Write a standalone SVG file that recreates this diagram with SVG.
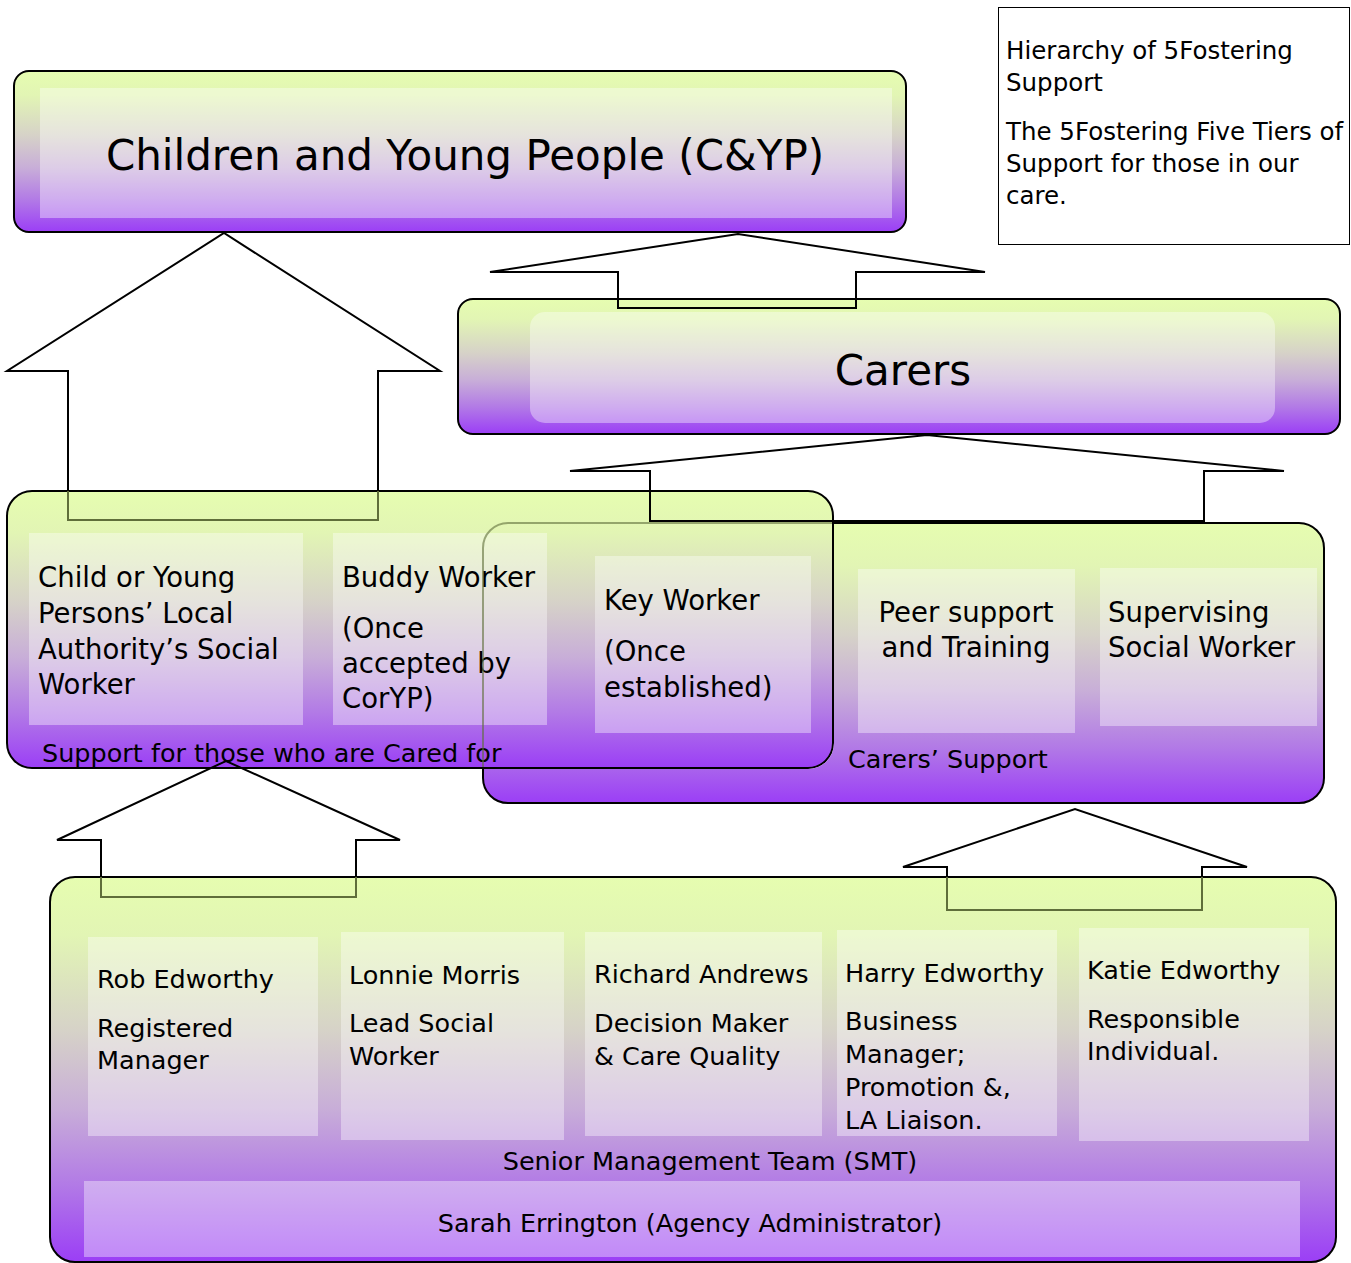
<svg xmlns="http://www.w3.org/2000/svg" width="1351" height="1263" viewBox="0 0 1351 1263">
<style>
.t{font-family:"DejaVu Sans","Liberation Sans",sans-serif;fill:#000}
.big{font-size:42px}
.mid{font-size:27.5px}
.lbl{font-size:25.5px}
.note{font-size:24.5px}
.box{fill:url(#g);stroke:#000;stroke-width:2}
.pane{fill:#fff;fill-opacity:0.38}
.arr{fill:none;stroke:#000;stroke-width:2;stroke-linejoin:miter}
.arrIn{fill:none;stroke:#5f6e3a;stroke-width:2}
</style>
<defs>
<linearGradient id="g" x1="0" y1="0" x2="0" y2="1">
<stop offset="0" stop-color="#e6fdb0"/>
<stop offset="0.15" stop-color="#e2f5b4"/>
<stop offset="0.4" stop-color="#d6d2c8"/>
<stop offset="0.6" stop-color="#c8aed8"/>
<stop offset="0.8" stop-color="#b27ae6"/>
<stop offset="1" stop-color="#9b3ef6"/>
</linearGradient>
<mask id="mOut" maskUnits="userSpaceOnUse" x="0" y="0" width="1351" height="1263">
<rect x="0" y="0" width="1351" height="1263" fill="#fff"/>
<rect x="7" y="491" width="826" height="277" rx="25" fill="#000" stroke="#000" stroke-width="2"/>
</mask>
<clipPath id="cIn"><rect x="8" y="492" width="824" height="275" rx="24"/></clipPath>
</defs>
<rect width="1351" height="1263" fill="#fff"/>

<g id="node-cyp">
<rect class="box" x="14" y="71" width="892" height="161" rx="15"/>
<rect class="pane" x="40" y="88" width="852" height="130" fill-opacity="0.3"/>
<text class="t big" x="465" y="170" text-anchor="middle">Children and Young People (C&amp;YP)</text>
</g>

<g id="node-carers">
<rect class="box" x="458" y="299" width="882" height="135" rx="15"/>
<rect class="pane" x="530" y="312" width="745" height="111" rx="15" fill-opacity="0.25"/>
<text class="t big" x="903" y="385" text-anchor="middle">Carers</text>
</g>

<g id="node-note">
<rect x="998.5" y="7.5" width="351" height="237" fill="#fff" stroke="#000" stroke-width="1"/>
<text class="t note" x="1006" y="59">Hierarchy of 5Fostering</text>
<text class="t note" x="1006" y="91">Support</text>
<text class="t note" x="1006" y="140">The 5Fostering Five Tiers of</text>
<text class="t note" x="1006" y="172">Support for those in our</text>
<text class="t note" x="1006" y="204">care.</text>
</g>

<g id="node-support-cared">
<rect class="box" x="7" y="491" width="826" height="277" rx="25"/>
<rect class="pane" x="29" y="533" width="274" height="192"/>
<rect class="pane" x="333" y="533" width="214" height="192"/>
<text class="t mid" x="38" y="587">Child or Young</text>
<text class="t mid" x="38" y="623">Persons’ Local</text>
<text class="t mid" x="38" y="659">Authority’s Social</text>
<text class="t mid" x="38" y="694">Worker</text>
<text class="t mid" x="342" y="587">Buddy Worker</text>
<text class="t mid" x="342" y="638">(Once</text>
<text class="t mid" x="342" y="673">accepted by</text>
<text class="t mid" x="342" y="708">CorYP)</text>
<text class="t lbl" x="42" y="762">Support for those who are Cared for</text>
</g>

<g id="node-carers-support">
<rect x="483" y="523" width="841" height="280" rx="25" fill="url(#g)" stroke="#000" stroke-width="2" mask="url(#mOut)"/>
<rect x="483" y="523" width="841" height="280" rx="25" fill="none" stroke="#5f6e3a" stroke-opacity="0.6" stroke-width="2" clip-path="url(#cIn)"/>
<rect class="pane" x="595" y="556" width="216" height="177"/>
<rect class="pane" x="858" y="569" width="217" height="164"/>
<rect class="pane" x="1100" y="568" width="217" height="158"/>
<text class="t mid" x="604" y="610">Key Worker</text>
<text class="t mid" x="604" y="661">(Once</text>
<text class="t mid" x="604" y="697">established)</text>
<text class="t mid" x="966" y="622" text-anchor="middle">Peer support</text>
<text class="t mid" x="966" y="657" text-anchor="middle">and Training</text>
<text class="t mid" x="1108" y="622">Supervising</text>
<text class="t mid" x="1108" y="657">Social Worker</text>
<text class="t lbl" x="848" y="768">Carers’ Support</text>
</g>

<g id="node-smt">
<rect class="box" x="50" y="877" width="1286" height="385" rx="25"/>
<rect class="pane" x="88" y="937" width="230" height="199"/>
<rect class="pane" x="341" y="932" width="223" height="208"/>
<rect class="pane" x="585" y="932" width="237" height="204"/>
<rect class="pane" x="837" y="930" width="220" height="206"/>
<rect class="pane" x="1079" y="928" width="230" height="213"/>
<rect class="pane" x="84" y="1181" width="1216" height="76" fill-opacity="0.3"/>
<text class="t lbl" x="97" y="988">Rob Edworthy</text>
<text class="t lbl" x="97" y="1037">Registered</text>
<text class="t lbl" x="97" y="1069">Manager</text>
<text class="t lbl" x="349" y="984">Lonnie Morris</text>
<text class="t lbl" x="349" y="1032">Lead Social</text>
<text class="t lbl" x="349" y="1065">Worker</text>
<text class="t lbl" x="594" y="983">Richard Andrews</text>
<text class="t lbl" x="594" y="1032">Decision Maker</text>
<text class="t lbl" x="594" y="1065">&amp; Care Quality</text>
<text class="t lbl" x="845" y="982">Harry Edworthy</text>
<text class="t lbl" x="845" y="1030">Business</text>
<text class="t lbl" x="845" y="1063">Manager;</text>
<text class="t lbl" x="845" y="1096">Promotion &amp;,</text>
<text class="t lbl" x="845" y="1129">LA Liaison.</text>
<text class="t lbl" x="1087" y="979">Katie Edworthy</text>
<text class="t lbl" x="1087" y="1028">Responsible</text>
<text class="t lbl" x="1087" y="1060">Individual.</text>
<text class="t lbl" x="710" y="1170" text-anchor="middle">Senior Management Team (SMT)</text>
<text class="t lbl" x="690" y="1232" text-anchor="middle">Sarah Errington (Agency Administrator)</text>
</g>

<g id="connectors">
<polyline class="arr" points="68,491 68,371 7,371 224,233 440,371 378,371 378,491"/>
<polyline class="arrIn" points="68,491 68,520 378,520 378,491"/>
<polygon class="arr" points="618,308 618,272 490,272 738,234 985,272 856,272 856,308"/>
<polygon class="arr" points="650,521 650,471 570,471 927,435 1284,471 1204,471 1204,521"/>
<polyline class="arr" points="101,877 101,840 57,840 226,761 400,840 356,840 356,877"/>
<polyline class="arrIn" points="101,877 101,897 356,897 356,877"/>
<polyline class="arr" points="947,877 947,867 903,867 1075,809 1247,867 1202,867 1202,877"/>
<polyline class="arrIn" points="947,877 947,910 1202,910 1202,877"/>
</g>
</svg>
